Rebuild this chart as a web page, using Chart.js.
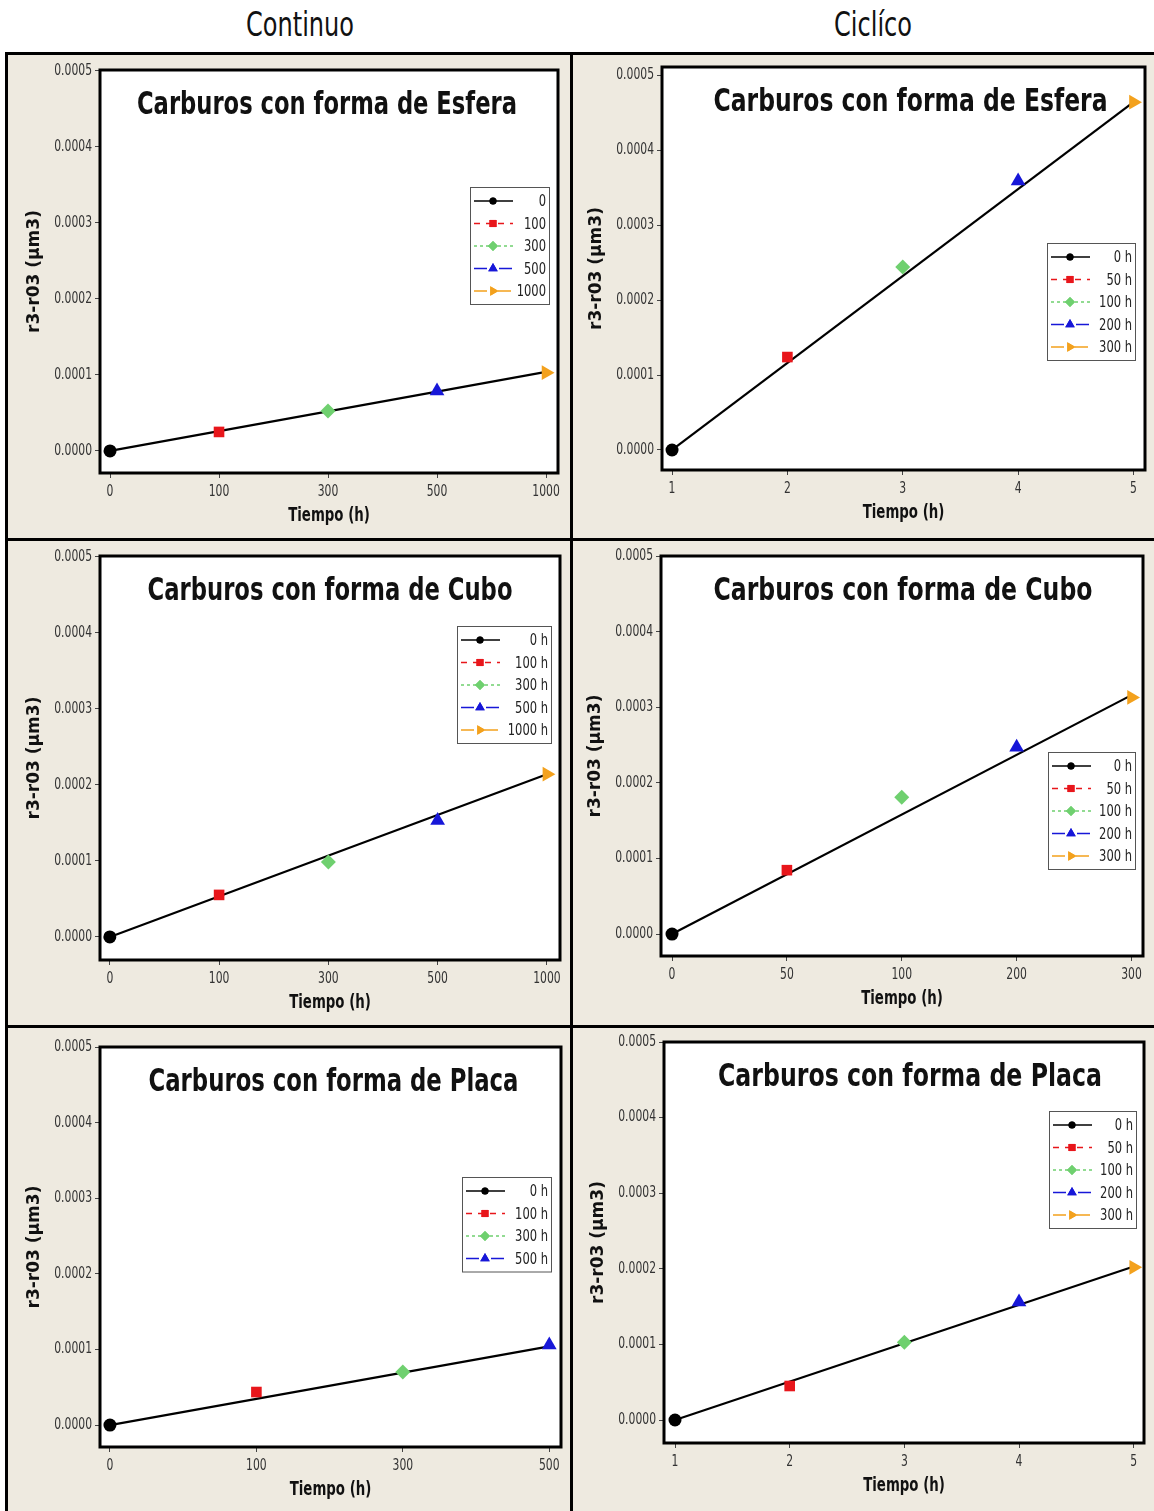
<!DOCTYPE html>
<html lang="es">
<head>
<meta charset="UTF-8">
<script src="https://cdn.jsdelivr.net/npm/chart.js@4.4.1/dist/chart.umd.min.js"></script>
<style>
  body { margin: 0; background: #fff; width: 1154px; height: 1511px; overflow: hidden; position: relative; }
  .cab { position: absolute; top: 5px; font-family: 'DejaVu Sans Condensed', sans-serif; font-size: 33px; color: #111; text-align: center; width: 300px; line-height: 40px; transform: scaleX(0.81); }
  #marco { position: absolute; left: 5px; top: 52px; width: 1149px; height: 1459px; background: #eeeae0; border-top: 3px solid #000; border-left: 3px solid #000; box-sizing: border-box; }
  .linea { position: absolute; background: #000; }
  canvas { position: absolute; }
</style>
</head>
<body>
<div class="cab" style="left:150px">Continuo</div>
<div class="cab" style="left:723px">Ciclíco</div>
<div id="marco"></div>
<div class="linea" style="left:570px; top:52px; width:3px; height:1459px"></div>
<div class="linea" style="left:5px; top:538px; width:1149px; height:3px"></div>
<div class="linea" style="left:5px; top:1025px; width:1149px; height:3px"></div>
<canvas id="c1" width="562" height="483" style="left:8px; top:55px"></canvas>
<canvas id="c2" width="580" height="483" style="left:574px; top:55px"></canvas>
<canvas id="c3" width="562" height="483" style="left:8px; top:542px"></canvas>
<canvas id="c4" width="580" height="483" style="left:574px; top:542px"></canvas>
<canvas id="c5" width="562" height="482" style="left:8px; top:1029px"></canvas>
<canvas id="c6" width="580" height="482" style="left:574px; top:1029px"></canvas>
<script>
// tiempos (etiquetas del eje x)
const tiempoContinuo = ['0', '100', '300', '500', '1000'];
const tiempoContinuoPlaca = ['0', '100', '300', '500'];
const tiempoCiclico = ['1', '2', '3', '4', '5'];
const tiempoCiclicoCubo = ['0', '50', '100', '200', '300'];

// etiquetas de leyenda
const leyendaContEsfera = ['0', '100', '300', '500', '1000'];
const leyendaContCubo = ['0 h', '100 h', '300 h', '500 h', '1000 h'];
const leyendaContPlaca = ['0 h', '100 h', '300 h', '500 h'];
const leyendaCiclico = ['0 h', '50 h', '100 h', '200 h', '300 h'];

// r3-r03 (um3)
const contEsfera = [0, 0.000025, 0.0000526, 0.000079, 0.000103];
const contEsferaAjuste = [0, 0.000104];
const cicEsfera = [0, 0.000124, 0.000244, 0.000359, 0.000464];
const cicEsferaAjuste = [0, 0.000464];
const contCubo = [0, 0.0000553, 0.0000987, 0.000153, 0.000214];
const contCuboAjuste = [0, 0.000214];
const cicCubo = [0, 0.0000845, 0.000181, 0.000247, 0.000313];
const cicCuboAjuste = [0, 0.000316];
const contPlaca = [0, 0.0000437, 0.0000701, 0.000106];
const contPlacaAjuste = [0, 0.000104];
const cicPlaca = [0, 0.000045, 0.000103, 0.000156, 0.000202];
const cicPlacaAjuste = [0, 0.000203];

const yTicks = [0, 0.0001, 0.0002, 0.0003, 0.0004, 0.0005];

const estilos = [
  { color: '#000000', forma: 'circle', rot: 0, dash: [], r: 6.5, rl: 3.5 },
  { color: '#e8161b', forma: 'rect', rot: 0, dash: [6, 6], r: 7.5, rl: 5 },
  { color: '#6fd06f', forma: 'rectRot', rot: 0, dash: [3, 3], r: 7.5, rl: 5 },
  { color: '#1717d8', forma: 'triangle', rot: 0, dash: [13, 4, 4, 4], r: 8.5, rl: 5.5 },
  { color: '#f3a11d', forma: 'triangle', rot: 90, dash: [13, 4, 3, 4], r: 8.5, rl: 5.5 }
];

const fuenteNarrow = "'DejaVu Sans Condensed', sans-serif";

// posiciones en pixeles de pagina
const paneles = [
  { id: 'c1', ox: 8, oy: 55, tiempos: tiempoContinuo, valores: contEsfera, ajuste: contEsferaAjuste, leyenda: leyendaContEsfera,
    titulo: 'Carburos con forma de Esfera', tw: 380, tdx: -2, caja: { l: 100, t: 70, r: 558, b: 473 },
    xr: [-0.092, 4.11], yr: [-0.000029, 0.000501], ley: { r: 549, t: 187, w: 79 } },
  { id: 'c2', ox: 574, oy: 55, tiempos: tiempoCiclico, valores: cicEsfera, ajuste: cicEsferaAjuste, leyenda: leyendaCiclico,
    titulo: 'Carburos con forma de Esfera', tw: 394, tdx: 7, caja: { l: 662, t: 67, r: 1145, b: 470 },
    xr: [-0.087, 4.10], yr: [-0.0000267, 0.000511], ley: { r: 1135, t: 243, w: 88 } },
  { id: 'c3', ox: 8, oy: 542, tiempos: tiempoContinuo, valores: contCubo, ajuste: contCuboAjuste, leyenda: leyendaContCubo,
    titulo: 'Carburos con forma de Cubo', tw: 365, tdx: 0, caja: { l: 100, t: 556, r: 560, b: 960 },
    xr: [-0.09, 4.12], yr: [-0.0000303, 0.000501], ley: { r: 551, t: 626, w: 94 } },
  { id: 'c4', ox: 574, oy: 542, tiempos: tiempoCiclicoCubo, valores: cicCubo, ajuste: cicCuboAjuste, leyenda: leyendaCiclico,
    titulo: 'Carburos con forma de Cubo', tw: 379, tdx: 1, caja: { l: 661, t: 556, r: 1143, b: 956 },
    xr: [-0.096, 4.10], yr: [-0.000029, 0.0005], ley: { r: 1135, t: 752, w: 87 } },
  { id: 'c5', ox: 8, oy: 1029, tiempos: tiempoContinuoPlaca, valores: contPlaca, ajuste: contPlacaAjuste, leyenda: leyendaContPlaca,
    titulo: 'Carburos con forma de Placa', tw: 370, tdx: 3, caja: { l: 100, t: 1047, r: 561, b: 1447 },
    xr: [-0.068, 3.08], yr: [-0.000029, 0.0005], ley: { r: 551, t: 1177, w: 89 } },
  { id: 'c6', ox: 574, oy: 1029, tiempos: tiempoCiclico, valores: cicPlaca, ajuste: cicPlacaAjuste, leyenda: leyendaCiclico,
    titulo: 'Carburos con forma de Placa', tw: 384, tdx: 6, caja: { l: 664, t: 1042, r: 1144, b: 1443 },
    xr: [-0.096, 4.09], yr: [-0.0000304, 0.0005], ley: { r: 1136, t: 1111, w: 87 } }
];

// texto angosto: fuente condensada comprimida en horizontal
function textoAngosto(ctx, txt, x, y, esc) {
  ctx.save();
  ctx.translate(x, y);
  ctx.scale(esc, 1);
  ctx.fillText(txt, 0, 0);
  ctx.restore();
}

const adornos = {
  id: 'adornos',
  beforeDatasetsDraw(chart) {
    const { ctx, chartArea: a } = chart;
    ctx.save();
    ctx.fillStyle = '#ffffff';
    ctx.fillRect(a.left, a.top, a.width, a.height);
    ctx.restore();
  },
  afterDatasetsDraw(chart) {
    const p = chart.options.plugins.adornos.panel;
    const { ctx, chartArea: a } = chart;
    const sx = chart.scales.x, sy = chart.scales.y;
    ctx.save();
    // caja
    ctx.strokeStyle = '#000';
    ctx.lineWidth = 3;
    ctx.strokeRect(a.left, a.top, a.width, a.height);

    // etiquetas de los ejes
    ctx.fillStyle = '#333';
    ctx.font = '15px ' + fuenteNarrow;
    ctx.textBaseline = 'middle';
    ctx.textAlign = 'right';
    sy.ticks.forEach(t => textoAngosto(ctx, t.value.toFixed(4), a.left - 8, sy.getPixelForValue(t.value), 0.8));
    ctx.textAlign = 'center';
    sx.ticks.forEach(t => textoAngosto(ctx, p.tiempos[t.value], sx.getPixelForValue(t.value), a.bottom + 19, 0.8));

    // titulo
    ctx.font = "bold 32px 'DejaVu Sans Condensed', sans-serif";
    const esc = p.tw / ctx.measureText(p.titulo).width;
    ctx.fillStyle = '#111';
    textoAngosto(ctx, p.titulo, (a.left + a.right) / 2 + p.tdx, a.top + 36, esc);

    // titulos de ejes
    ctx.font = 'bold 19px ' + fuenteNarrow;
    textoAngosto(ctx, 'Tiempo (h)', (a.left + a.right) / 2, a.bottom + 43, 0.78);
    ctx.save();
    ctx.translate(a.left - 65, (a.top + a.bottom) / 2);
    ctx.rotate(-Math.PI / 2);
    ctx.font = "bold 17px 'DejaVu Sans', sans-serif";
    ctx.fillText('r3-r03 (µm3)', 0, 0);
    ctx.restore();

    // leyenda
    const n = p.leyenda.length;
    const lx = p.ley.r - p.ox - p.ley.w;
    const ly = p.ley.t - p.oy;
    const lh = 14 + (n - 1) * 22.5 + 13;
    ctx.fillStyle = '#fff';
    ctx.fillRect(lx, ly, p.ley.w, lh);
    ctx.strokeStyle = '#555';
    ctx.lineWidth = 1;
    ctx.strokeRect(lx + 0.5, ly + 0.5, p.ley.w, lh);
    for (let i = 0; i < n; i++) {
      const s = estilos[i];
      const y = ly + 14 + i * 22.5;
      ctx.strokeStyle = s.color;
      ctx.lineWidth = 1.5;
      ctx.setLineDash(s.dash);
      ctx.beginPath();
      ctx.moveTo(lx + 4, y);
      ctx.lineTo(lx + 43, y);
      ctx.stroke();
      ctx.setLineDash([]);
      ctx.fillStyle = s.color;
      Chart.helpers.drawPoint(ctx, { pointStyle: s.forma, radius: s.rl, rotation: s.rot, borderWidth: 0 }, lx + 23, y);
      ctx.fill();
      ctx.fillStyle = '#222';
      ctx.textAlign = 'right';
      ctx.font = '16px ' + fuenteNarrow;
      textoAngosto(ctx, p.leyenda[i], lx + p.ley.w - 3, y + 1, 0.8);
    }
    ctx.restore();
  }
};

paneles.forEach(p => {
  const cv = document.getElementById(p.id);
  const W = cv.width, H = cv.height;
  const caja = { l: p.caja.l - p.ox, t: p.caja.t - p.oy, r: p.caja.r - p.ox, b: p.caja.b - p.oy };
  const n = p.valores.length;

  const datasets = [{
    data: [{ x: 0, y: p.ajuste[0] }, { x: n - 1, y: p.ajuste[1] }],
    borderColor: '#000', borderWidth: 2.2, pointRadius: 0, order: 10
  }];
  p.valores.forEach((v, i) => {
    const s = estilos[i];
    datasets.push({
      data: [{ x: i, y: v }],
      pointStyle: s.forma, pointRotation: s.rot, pointRadius: s.r,
      backgroundColor: s.color, borderColor: s.color, pointBorderWidth: 0,
      showLine: false, order: 1
    });
  });

  new Chart(cv, {
    type: 'line',
    data: { datasets },
    plugins: [adornos],
    options: {
      responsive: false,
      animation: false,
      clip: false,
      layout: { padding: { left: 0, top: caja.t, right: W - caja.r, bottom: 0 } },
      plugins: { legend: { display: false }, tooltip: { enabled: false }, adornos: { panel: p } },
      scales: {
        x: {
          type: 'linear', min: p.xr[0], max: p.xr[1],
          afterBuildTicks: s => { s.ticks = p.tiempos.map((t, i) => ({ value: i })); },
          afterFit: s => { s.height = H - caja.b; },
          ticks: { display: false },
          grid: { drawOnChartArea: false, tickLength: 5, color: '#444' },
          border: { display: false }
        },
        y: {
          min: p.yr[0], max: p.yr[1],
          afterBuildTicks: s => { s.ticks = yTicks.map(v => ({ value: v })); },
          afterFit: s => { s.width = caja.l; },
          ticks: { display: false },
          grid: { drawOnChartArea: false, tickLength: 5, color: '#444' },
          border: { display: false }
        }
      }
    }
  });
});
</script>
</body>
</html>
